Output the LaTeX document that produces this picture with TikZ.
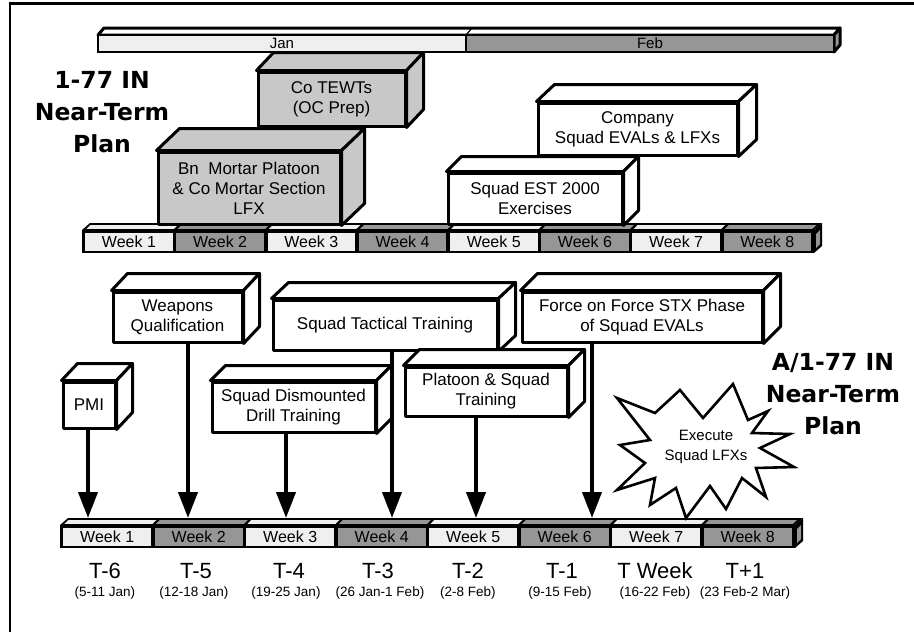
\documentclass[tikz,border=0pt]{standalone}
\usepackage{fontspec}
\setmainfont{Liberation Sans}
\newfontfamily\titlefam{DejaVu Sans}
\usetikzlibrary{calc,arrows.meta}

\definecolor{lightcell}{HTML}{EFEFEF}
\definecolor{darkcell}{HTML}{969696}
\definecolor{boxgrey}{HTML}{C8C8C8}

\tikzset{
  cubeline/.style={line width=3pt, line join=round},
  cubefront/.style={draw, cubeline, fill=white, rectangle, inner sep=0pt, align=center,
    font=\fontsize{17}{20}\selectfont},
  monthcell/.style={draw, line width=2.6pt, rectangle, inner sep=0pt, minimum height=17pt,
    font=\fontsize{15}{15}\selectfont},
  weekcell/.style={rectangle, inner sep=0pt, minimum height=18pt, minimum width=88pt,
    font=\fontsize{16}{16}\selectfont},
  titletext/.style={align=center, inner sep=0pt, font=\titlefam\bfseries\fontsize{23.5}{32}\selectfont},
  tlabel/.style={inner sep=0pt, font=\fontsize{22}{22}\selectfont},
  dlabel/.style={inner sep=0pt, font=\fontsize{13.5}{13.5}\selectfont},
  arrowline/.style={line width=4pt, -{Triangle[width=19pt,length=26pt]}},
  burst/.style={line width=2.6pt, line join=miter, fill=white},
  bursttext/.style={align=center, inner sep=0pt, font=\fontsize{15}{20}\selectfont}
}

\newcommand{\cubesides}[4]{%
  \draw[cubeline, fill=#4] (#1.north west) -- ++(#2pt,#3pt) -- ([shift={(#2pt,#3pt)}]#1.north east) -- (#1.north east) -- cycle;
  \draw[cubeline, fill=#4] (#1.north east) -- ++(#2pt,#3pt) -- ([shift={(#2pt,#3pt)}]#1.south east) -- (#1.south east) -- cycle;
}

\begin{document}
\begin{tikzpicture}[x=1pt,y=-1pt]
\useasboundingbox (0,0) rectangle (914,632);
\fill[white] (0,0) rectangle (914,632);
\draw[line width=2.5pt] (10,632) -- (10,3.5) -- (914,3.5);

% ---------- month bar ----------
\draw[cubeline, fill=white] (98,35) -- (104,28) -- (840,28) -- (834,35) -- cycle;
\draw[line width=1.2pt] (466,35) -- (472,28);
\draw[cubeline, fill=darkcell] (834,35) -- (840,28) -- (840,45) -- (834,52) -- cycle;
\node[monthcell, fill=lightcell, minimum width=368pt] (jan) at (282,43.5) {Jan\hspace{20pt}};
\node[monthcell, fill=darkcell, minimum width=368pt] (feb) at (650,43.5) {Feb\hspace{26pt}};

% ---------- titles ----------
\node[titletext] (title1) at (102,112) {1-77 IN\\Near-Term\\Plan};
\node[titletext] (title2) at (833,394) {A/1-77 IN\\Near-Term\\Plan};

% ---------- top week bar ----------
\fill[black] (82,230) -- (90,223) -- (822,223) -- (814,230) -- cycle;
\fill[black] (82,230) rectangle (814,253);
\fill[black] (814,230) -- (822,223) -- (822,246) -- (814,253) -- cycle;
\fill[darkcell] (816,234) -- (820,230) -- (820,244) -- (816,248) -- cycle;
\foreach \i in {1,...,8} {
  \pgfmathsetmacro{\l}{85+91.2*(\i-1)}
  \pgfmathsetmacro{\r}{\l+87.5}
  \ifodd\i \def\cc{lightcell}\else\def\cc{darkcell}\fi
  \fill[\cc] (\l+1.5,228.8) -- (\l+5.5,225) -- (\r+5.5,225) -- (\r+1.5,228.8) -- cycle;
  \node[weekcell, fill=\cc, minimum width=87.5pt, anchor=west] (tw\i) at (\l,241.5) {Week \i};
}

% ---------- top boxes ----------
\node[cubefront, fill=boxgrey, minimum width=147pt, minimum height=54pt] (cotewts) at (331.5,99) {Co TEWTs\\(OC Prep)};
\cubesides{cotewts}{17}{18}{boxgrey}
\node[cubefront, fill=boxgrey, minimum width=182pt, minimum height=72pt] (bnmortar) at (249,188) {Bn\ \ Mortar Platoon\\\& Co Mortar Section\\LFX};
\cubesides{bnmortar}{23}{22}{boxgrey}
\node[cubefront, minimum width=199pt, minimum height=52pt] (company) at (637.5,129) {Company\\Squad EVALs \& LFXs};
\cubesides{company}{18}{17}{white}
\node[cubefront, minimum width=174pt, minimum height=51pt] (squadest) at (535,198.5) {Squad EST 2000\\Exercises};
\cubesides{squadest}{15}{15}{white}

% ---------- bottom week bar ----------
\fill[black] (60,525) -- (68,518) -- (803,518) -- (795,525) -- cycle;
\fill[black] (60,525) rectangle (795,548);
\fill[black] (795,525) -- (803,518) -- (803,541) -- (795,548) -- cycle;
\fill[darkcell] (797,529) -- (801,525) -- (801,539) -- (797,543) -- cycle;
\foreach \i in {1,...,8} {
  \pgfmathsetmacro{\l}{63+91.5*(\i-1)}
  \pgfmathsetmacro{\r}{\l+88}
  \ifodd\i \def\cc{lightcell}\else\def\cc{darkcell}\fi
  \fill[\cc] (\l+1.5,523.8) -- (\l+5.5,520) -- (\r+5.5,520) -- (\r+1.5,523.8) -- cycle;
  \node[weekcell, fill=\cc, anchor=west] (bw\i) at (\l,536.5) {Week \i};
}

% ---------- bottom boxes ----------
\node[cubefront, minimum width=129pt, minimum height=50pt] (weapons) at (177.5,317) {Weapons\\Qualification};
\cubesides{weapons}{16}{17}{white}
\node[cubefront, minimum width=224pt, minimum height=50pt] (tactical) at (385,325) {Squad Tactical Training};
\cubesides{tactical}{17}{16}{white}
\node[cubefront, minimum width=240pt, minimum height=50pt] (fof) at (642,317) {Force on Force STX Phase\\of Squad EVALs};
\cubesides{fof}{17}{17}{white}
\node[cubefront, minimum width=52pt, minimum height=46pt] (pmi) at (89,405) {PMI};
\cubesides{pmi}{16}{17}{white}
\node[cubefront, minimum width=163pt, minimum height=50pt] (dismounted) at (293.5,407) {Squad Dismounted\\Drill Training};
\cubesides{dismounted}{15}{15}{white}
\node[cubefront, minimum width=162pt, minimum height=49pt] (platoon) at (486,391.5) {Platoon \& Squad\\Training};
\cubesides{platoon}{16}{16}{white}

% ---------- arrows ----------
\coordinate (a1) at (88,518);
\coordinate (a2) at (188,518);
\coordinate (a3) at (286,518);
\coordinate (a4) at (392,518);
\coordinate (a5) at (476,518);
\coordinate (a6) at (592,518);
\draw[arrowline] (pmi.south -| a1) -- (a1);
\draw[arrowline] (weapons.south -| a2) -- (a2);
\draw[arrowline] (dismounted.south -| a3) -- (a3);
\draw[arrowline] (tactical.south -| a4) -- (a4);
\draw[arrowline] (platoon.south -| a5) -- (a5);
\draw[arrowline] (fof.south -| a6) -- (a6);

% ---------- starburst ----------
\draw[burst] (733,384) -- (748,420) -- (768,411) -- (752,433) -- (790,434) -- (760,448)
  -- (794,467) -- (756,468) -- (766,497) -- (742,478) -- (726,509) -- (710,486)
  -- (686,518) -- (676,488) -- (650,505) -- (655,478) -- (617,490) -- (645,463)
  -- (620,445) -- (650,440) -- (617,398) -- (655,413) -- (680,390) -- (703,418) -- cycle;
\node[bursttext] (execute) at (706,447) {Execute\\Squad LFXs};

% ---------- week labels ----------
\node[tlabel] (t1) at (105,571) {T-6};
\node[tlabel] (t2) at (196,571) {T-5};
\node[tlabel] (t3) at (289,571) {T-4};
\node[tlabel] (t4) at (378,571) {T-3};
\node[tlabel] (t5) at (468,571) {T-2};
\node[tlabel] (t6) at (562,571) {T-1};
\node[tlabel] (t7) at (655,571) {T Week};
\node[tlabel] (t8) at (745,571) {T+1};
\node[dlabel] (d1) at (105,593) {(5-11 Jan)};
\node[dlabel] (d2) at (194,593) {(12-18 Jan)};
\node[dlabel] (d3) at (286,593) {(19-25 Jan)};
\node[dlabel] (d4) at (380,593) {(26 Jan-1 Feb)};
\node[dlabel] (d5) at (468,593) {(2-8 Feb)};
\node[dlabel] (d6) at (560,593) {(9-15 Feb)};
\node[dlabel] (d7) at (655,593) {(16-22 Feb)};
\node[dlabel] (d8) at (745,593) {(23 Feb-2 Mar)};
\end{tikzpicture}
\end{document}
